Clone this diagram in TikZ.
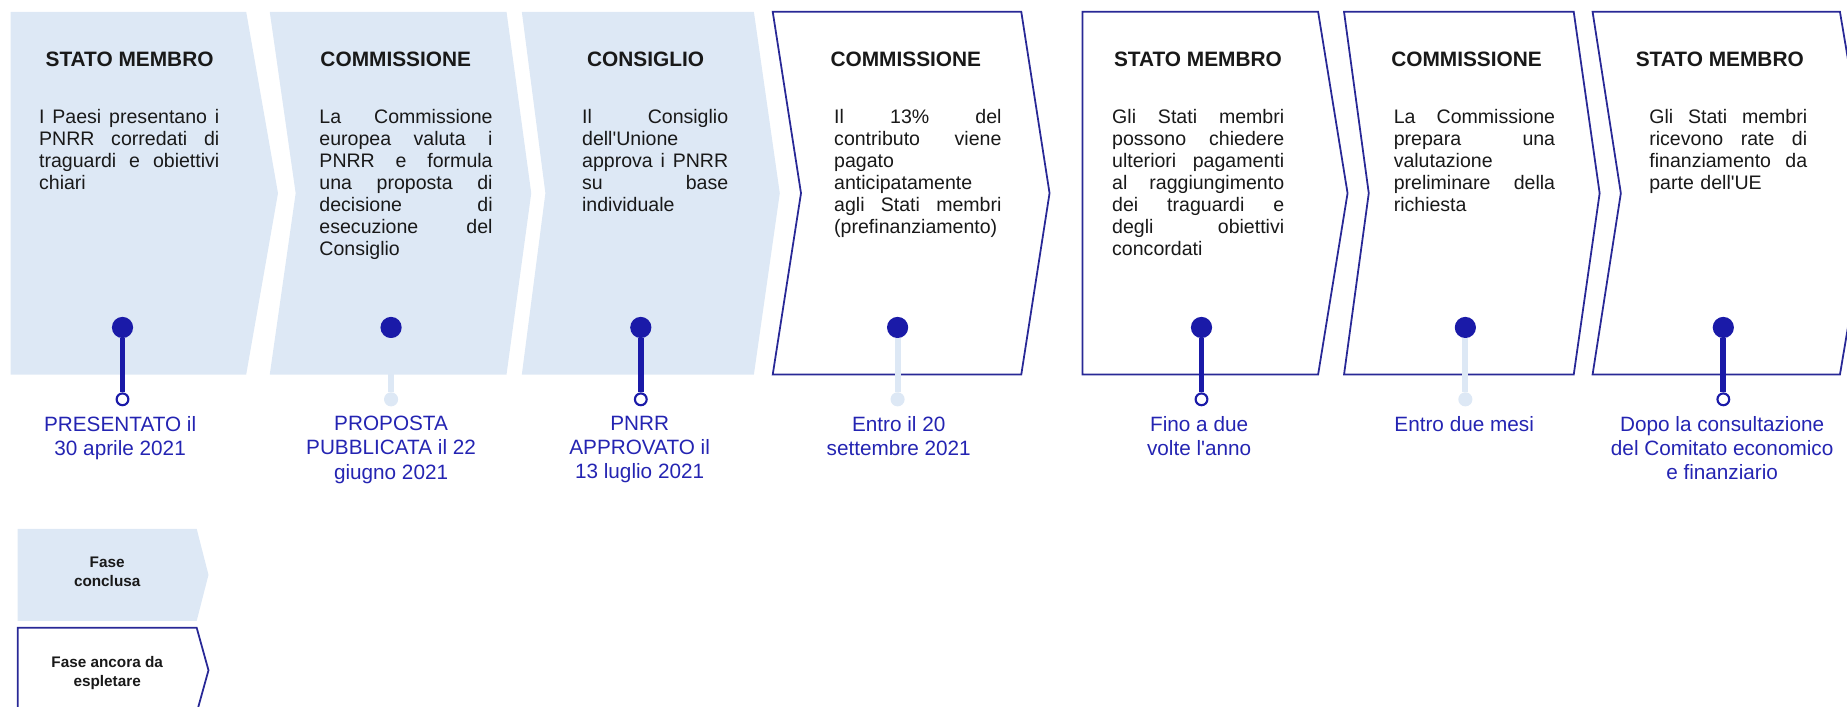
\documentclass[tikz,border=0pt]{standalone}
\usepackage{fontspec}
\setmainfont{Liberation Sans}[Ligatures=TeXOff]
\definecolor{lightfill}{RGB}{221,232,245}
\definecolor{darkblue}{RGB}{26,26,168}
\definecolor{edgeblue}{RGB}{40,40,150}
\definecolor{labelblue}{RGB}{36,36,178}
\definecolor{bodytext}{RGB}{25,25,25}
\newlength{\bodyw}
\newcommand{\jl}[1]{{\spaceskip=0pt plus 1fil\xspaceskip=0pt plus 1fil\makebox[\bodyw][s]{#1}}}
\begin{document}
\begin{tikzpicture}[x=1pt,y=-1pt,
  done/.style={fill=lightfill,draw=none},
  todo/.style={draw=edgeblue,line width=1.5pt,fill=white,line join=miter},
  dot/.style={circle,fill=darkblue,inner sep=0pt,minimum size=18pt},
  enddark/.style={circle,draw=darkblue,fill=white,line width=1.8pt,inner sep=0pt,minimum size=10pt},
  endlight/.style={circle,fill=lightfill,inner sep=0pt,minimum size=12pt},
  stemdark/.style={draw=darkblue,line width=5pt},
  stemlight/.style={draw=lightfill,line width=5pt},
  ttl/.style={font=\fontsize{17.7}{20}\selectfont\bfseries,text=bodytext,anchor=base,inner sep=0pt},
  body/.style={font=\fontsize{16.6}{18.6}\selectfont,text=bodytext,anchor=north west,inner sep=0pt,align=left,
    text width=#1,execute at begin node={\setlength{\bodyw}{#1}}},
  lbl/.style={font=\fontsize{17.6}{20.5}\selectfont,text=labelblue,anchor=north,inner sep=0pt,align=center},
  leg/.style={font=\fontsize{13}{16}\selectfont\bfseries,text=bodytext,anchor=north,inner sep=0pt,align=center}]
\useasboundingbox (0,0) rectangle (1568,600);
\clip (0,0) rectangle (1568,600);
% phase shapes
\path[done] (9,10) -- (209,10) -- (236,164) -- (209,318) -- (9,318) -- cycle;
\path[done] (229,10) -- (430,10) -- (451,164) -- (430,318) -- (229,318) -- (251,164) -- cycle;
\path[done] (443,10) -- (640,10) -- (662,164) -- (640,318) -- (443,318) -- (463,164) -- cycle;
\path[todo] (656,10) -- (867,10) -- (891,164) -- (867,318) -- (656,318) -- (680,164) -- cycle;
\path[todo] (919,10) -- (1119,10) -- (1144,164) -- (1119,318) -- (919,318) -- cycle;
\path[todo] (1141,10) -- (1336,10) -- (1358,164) -- (1336,318) -- (1141,318) -- (1162,164) -- cycle;
\path[todo] (1352,10) -- (1562,10) -- (1588,164) -- (1562,318) -- (1352,318) -- (1376,164) -- cycle;
% titles
\node[ttl] (t1) at (110,56.5) {STATO MEMBRO};
\node[ttl] (t2) at (336,56.5) {COMMISSIONE};
\node[ttl] (t3) at (548,56.5) {CONSIGLIO};
\node[ttl] (t4) at (769,56.5) {COMMISSIONE};
\node[ttl] (t5) at (1017,56.5) {STATO MEMBRO};
\node[ttl] (t6) at (1245,56.5) {COMMISSIONE};
\node[ttl] (t7) at (1460,56.5) {STATO MEMBRO};
% body texts
\node[body=153pt] (b1) at (33,92.7) {\jl{I Paesi presentano i}\\ \jl{PNRR corredati di}\\ \jl{traguardi e obiettivi}\\ chiari};
\node[body=147pt] (b2) at (271,92.7) {\jl{La Commissione}\\ \jl{europea valuta i}\\ \jl{PNRR e formula}\\ \jl{una proposta di}\\ \jl{decisione di}\\ \jl{esecuzione del}\\ Consiglio};
\node[body=124pt] (b3) at (494,92.7) {\jl{Il Consiglio}\\ dell'Unione\\ \jl{approva i PNRR}\\ \jl{su base}\\ individuale};
\node[body=142pt] (b4) at (708,92.7) {\jl{Il 13\% del}\\ \jl{contributo viene}\\ pagato\\ anticipatamente\\ \jl{agli Stati membri}\\ (prefinanziamento)};
\node[body=146pt] (b5) at (944,92.7) {\jl{Gli Stati membri}\\ \jl{possono chiedere}\\ \jl{ulteriori pagamenti}\\ \jl{al raggiungimento}\\ \jl{dei traguardi e}\\ \jl{degli obiettivi}\\ concordati};
\node[body=137pt] (b6) at (1183,92.7) {\jl{La Commissione}\\ \jl{prepara una}\\ valutazione\\ \jl{preliminare della}\\ richiesta};
\node[body=134pt] (b7) at (1400,92.7) {\jl{Gli Stati membri}\\ \jl{ricevono rate di}\\ \jl{finanziamento da}\\ parte dell'UE};
% markers
\node[dot] (d1) at (104,278) {};
\node[dot] (d2) at (332,278) {};
\node[dot] (d3) at (544,278) {};
\node[dot] (d4) at (762,278) {};
\node[dot] (d5) at (1020,278) {};
\node[dot] (d6) at (1244,278) {};
\node[dot] (d7) at (1463,278) {};
\node[enddark] (e1) at (104,339) {};
\node[endlight] (e2) at (332,339) {};
\node[enddark] (e3) at (544,339) {};
\node[endlight] (e4) at (762,339) {};
\node[enddark] (e5) at (1020,339) {};
\node[endlight] (e6) at (1244,339) {};
\node[enddark] (e7) at (1463,339) {};
\draw[stemdark] (d1) -- (e1);
\draw[stemlight] (d2) -- (e2);
\draw[stemdark] (d3) -- (e3);
\draw[stemlight] (d4) -- (e4);
\draw[stemdark] (d5) -- (e5);
\draw[stemlight] (d6) -- (e6);
\draw[stemdark] (d7) -- (e7);
% date labels
\node[lbl] (l1) at (102,353.2) {PRESENTATO il\\30 aprile 2021};
\node[lbl] (l2) at (332,353.2) {PROPOSTA\\PUBBLICATA il 22\\giugno 2021};
\node[lbl] (l3) at (543,353.2) {PNRR\\APPROVATO il\\13 luglio 2021};
\node[lbl] (l4) at (763,353.2) {Entro il 20\\settembre 2021};
\node[lbl] (l5) at (1018,353.2) {Fino a due\\volte l'anno};
\node[lbl] (l6) at (1243,353.2) {Entro due mesi};
\node[lbl] (l7) at (1462,353.2) {Dopo la consultazione\\del Comitato economico\\e finanziario};
% legend
\path[done] (15,449) -- (167,449) -- (177,488) -- (167,527) -- (15,527) -- cycle;
\draw[draw=edgeblue,line width=1.5pt,line join=miter] (15,610) -- (15,533) -- (167,533) -- (177,569) -- (167,605) -- (167,610);
\node[leg] (g1) at (91,473) {Fase\\conclusa};
\node[leg] (g2) at (91,557.2) {Fase ancora da\\espletare};
\end{tikzpicture}
\end{document}
